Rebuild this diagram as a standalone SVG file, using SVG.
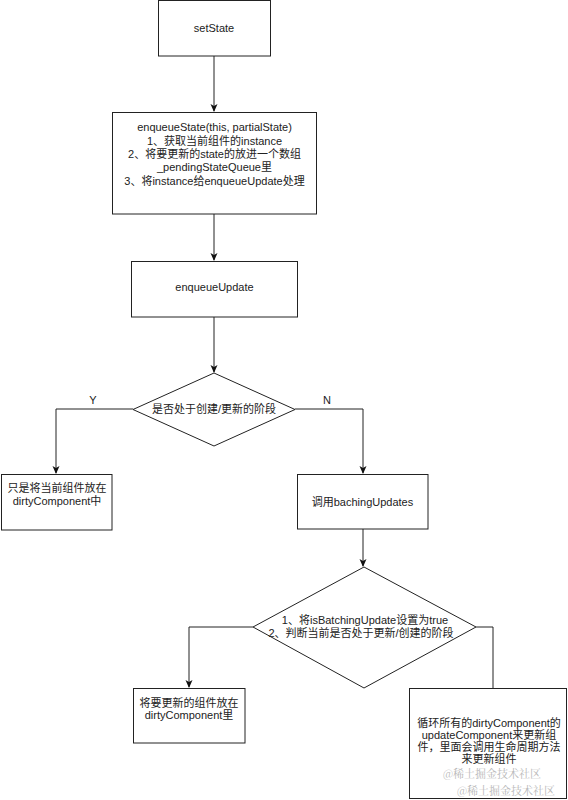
<svg xmlns="http://www.w3.org/2000/svg" width="568" height="800" viewBox="0 0 568 800">
<style>
.box{fill:#fff;stroke:#222;stroke-width:1}
.t{font-family:"Liberation Sans","Noto Sans CJK SC",sans-serif;font-size:11px;fill:#222;text-anchor:middle}
.c{fill:none;stroke:#222;stroke-width:1}
.wm{font-family:"Noto Serif CJK SC","Noto Sans CJK SC",serif;font-size:11px;fill:#b8b8b8}
</style>
<defs>
<marker id="arr" viewBox="0 0 8 8" refX="7" refY="4" markerWidth="8" markerHeight="8" markerUnits="userSpaceOnUse" orient="auto">
<path d="M0,0.5 L8,4 L0,7.5 L2,4 Z" fill="#111"/>
</marker>
</defs>
<rect width="568" height="800" fill="#fff"/>
<g id="connectors">
<path class="c" d="M214,56 V111" marker-end="url(#arr)"/>
<path class="c" d="M214,214 V260" marker-end="url(#arr)"/>
<path class="c" d="M214,317 V372" marker-end="url(#arr)"/>
<path class="c" d="M133,409 H56 V473" marker-end="url(#arr)"/>
<path class="c" d="M295,409 H363 V473" marker-end="url(#arr)"/>
<path class="c" d="M363,529 V566" marker-end="url(#arr)"/>
<path class="c" d="M253,627 H189 V687" marker-end="url(#arr)"/>
<path class="c" d="M476,627 H493 V688"/>
<text class="t" x="93" y="404">Y</text>
<text class="t" x="327" y="404">N</text>
</g>
<g id="setState">
<rect class="box" x="158.5" y="0.5" width="112" height="55.5"/>
<text class="t" x="214" y="32">setState</text>
</g>
<g id="enqueueState">
<rect class="box" x="112.5" y="112.5" width="204" height="101.5"/>
<text class="t" x="214.5" y="131">enqueueState(this, partialState)</text>
<text class="t" x="214.5" y="144.5">1、获取当前组件的instance</text>
<text class="t" x="214.5" y="158">2、将要更新的state的放进一个数组</text>
<text class="t" x="214.5" y="171">_pendingStateQueue里</text>
<text class="t" x="214.5" y="184.5">3、将instance给enqueueUpdate处理</text>
</g>
<g id="enqueueUpdate">
<rect class="box" x="131.5" y="261.5" width="166" height="55.5"/>
<text class="t" x="214.5" y="291">enqueueUpdate</text>
</g>
<g id="decision1">
<path class="box" d="M214,373 L295,409.5 L214,446 L133,409.5 Z"/>
<text class="t" x="214" y="413">是否处于创建/更新的阶段</text>
</g>
<g id="dirtyOnly">
<rect class="box" x="1.5" y="474.5" width="110.5" height="55.5"/>
<text class="t" x="57" y="492">只是将当前组件放在</text>
<text class="t" x="57" y="505">dirtyComponent中</text>
</g>
<g id="bachingUpdates">
<rect class="box" x="297.5" y="474.5" width="130.5" height="54.5"/>
<text class="t" x="362.5" y="506">调用bachingUpdates</text>
</g>
<g id="decision2">
<path class="box" d="M364,567 L476,627 L364,688 L253,627 Z"/>
<text class="t" x="365" y="624">1、将isBatchingUpdate设置为true</text>
<text class="t" x="361" y="637">2、判断当前是否处于更新/创建的阶段</text>
</g>
<g id="dirtyPut">
<rect class="box" x="133.5" y="688.5" width="111.5" height="54.5"/>
<text class="t" x="189" y="707">将要更新的组件放在</text>
<text class="t" x="189" y="719">dirtyComponent里</text>
</g>
<g id="loopUpdate">
<rect class="box" x="409.5" y="688.5" width="157" height="110"/>
<text class="t" x="489" y="727">循环所有的dirtyComponent的</text>
<text class="t" x="489" y="739">updateComponent来更新组</text>
<text class="t" x="489" y="751">件，里面会调用生命周期方法</text>
<text class="t" x="489" y="763">来更新组件</text>
</g>
<g id="watermark">
<text class="wm" x="443" y="778">@稀土掘金技术社区</text>
<text class="wm" x="457" y="795">@稀土掘金技术社区</text>
</g>
</svg>
